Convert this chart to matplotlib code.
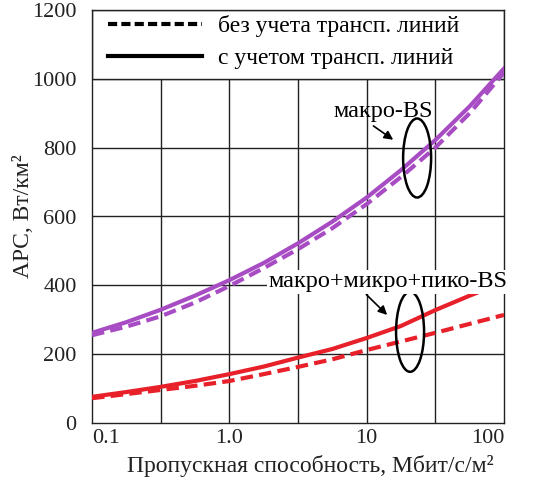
import matplotlib
matplotlib.use("Agg")
import matplotlib.pyplot as plt
import numpy as np
from matplotlib.patches import Ellipse, Rectangle
from matplotlib.transforms import ScaledTranslation

plt.rcParams['font.family'] = ['Liberation Serif', 'DejaVu Serif']

# throughput, Mbit/s/m^2 (quarter-decade steps)
thr = [0.1, 0.178, 0.316, 0.562, 1.0, 1.78, 3.16, 5.62, 10, 17.8, 31.6, 56.2, 100]
macro_with = [262, 293, 329, 370, 415, 465, 522, 585, 655, 735, 822, 920, 1030]
macro_without = [255, 280, 310, 350, 398, 450, 505, 566, 636, 715, 800, 900, 1018]

thr_het = [0.1, 0.178, 0.316, 0.562, 1.0, 1.78, 3.16, 5.62, 10, 17.8, 31.6, 56.2, 67]
het_with = [76, 90, 105, 122, 142, 164, 190, 215, 247, 282, 328, 370, 382]
het_without = [72, 84, 96, 108, 122, 142, 163, 185, 212, 237, 262, 288, 314]

purple = '#A84CC4'
red = '#E8202A'

fig = plt.figure(figsize=(5.36, 4.90), dpi=100)
ax = fig.add_axes([92/536, 67/490, 412/536, 413/490])

ax.set_xscale('log')
ax.set_xlim(0.1, 100)
ax.set_ylim(0, 1200)

# grid: half-decade verticals, 200 steps horizontally
for gx in 10 ** np.arange(-0.5, 2.0, 0.5):
    ax.axvline(gx, color='#222222', lw=1.0, zorder=1)
for gy in range(200, 1200, 200):
    ax.axhline(gy, color='#222222', lw=1.0, zorder=1)

# legend area above 1000
ax.add_patch(Rectangle((0, 1000 / 1200), 1, 200 / 1200, transform=ax.transAxes,
                       facecolor='white', edgecolor='#222222', lw=1.0, zorder=2))

dash = (0, (3, 1.5))
ax.plot(thr, macro_without, color=purple, lw=3, ls=dash, zorder=3)
ax.plot(thr, macro_with, color=purple, lw=3, zorder=3)
ax.plot(thr, het_without, color=red, lw=3, ls=dash, zorder=3)
ax.plot(thr_het, het_with, color=red, lw=3, zorder=3)

ax.plot([], [], color='black', lw=3, ls=(0, (2.2, 1)), label='без учета трансп. линий')
ax.plot([], [], color='black', lw=3, label='с учетом трансп. линий')
leg = ax.legend(loc='upper left', bbox_to_anchor=(16/412, 1 - 5/413), frameon=False,
                fontsize=17, handlelength=4.0, handletextpad=0.65, labelspacing=0.45,
                borderaxespad=0, borderpad=0)
leg.set_zorder(4)

ax.set_xticks([0.1, 1, 10, 100])
ax.set_xticklabels(['0.1', '1.0', '10', '100'])
ax.minorticks_off()
labels = ax.get_xticklabels()
labels[0].set_ha('left')
labels[-1].set_ha('right')
ax.set_yticks(range(0, 1400, 200))
ax.tick_params(axis='y', length=0, labelsize=16, pad=11, colors='#222222')
ax.tick_params(axis='x', length=0, labelsize=16, pad=4, colors='#222222')

for s in ax.spines.values():
    s.set_color('#222222')
    s.set_linewidth(1.0)

ax.set_xlabel('Пропускная способность, Мбит/с/м²', fontsize=17, color='#222222')
ax.xaxis.set_label_coords(0.53, -0.078)
ax.set_ylabel('APC, Вт/км²', fontsize=17, color='#222222')
ax.yaxis.set_label_coords(-0.14, 0.5)


def ring(x, y, w, h):
    tr = fig.dpi_scale_trans + ScaledTranslation(x, y, ax.transData)
    ax.add_patch(Ellipse((0, 0), w, h, transform=tr, fill=False,
                         edgecolor='black', lw=1.8, zorder=5))


ring(23.3, 770, 0.28, 0.79)
ring(20.7, 265, 0.28, 0.80)

ax.annotate('макро-BS', xy=(15.6, 823), xytext=(13.2, 904), fontsize=17.5,
            ha='center', va='center', zorder=6,
            arrowprops=dict(arrowstyle='-|>', color='black', lw=1.2,
                            shrinkA=1, shrinkB=0, mutation_scale=13,
                            relpos=(0.35, 0)))
ax.annotate('макро+микро+пико-BS', xy=(14.1, 314), xytext=(14.3, 410), fontsize=17.5,
            ha='center', va='center', zorder=6,
            bbox=dict(boxstyle='square,pad=0.05', fc='white', ec='none'),
            arrowprops=dict(arrowstyle='-|>', color='black', lw=1.2,
                            shrinkA=1, shrinkB=0, mutation_scale=13,
                            relpos=(0.4, 0)))

fig.savefig('out.png', dpi=100)
